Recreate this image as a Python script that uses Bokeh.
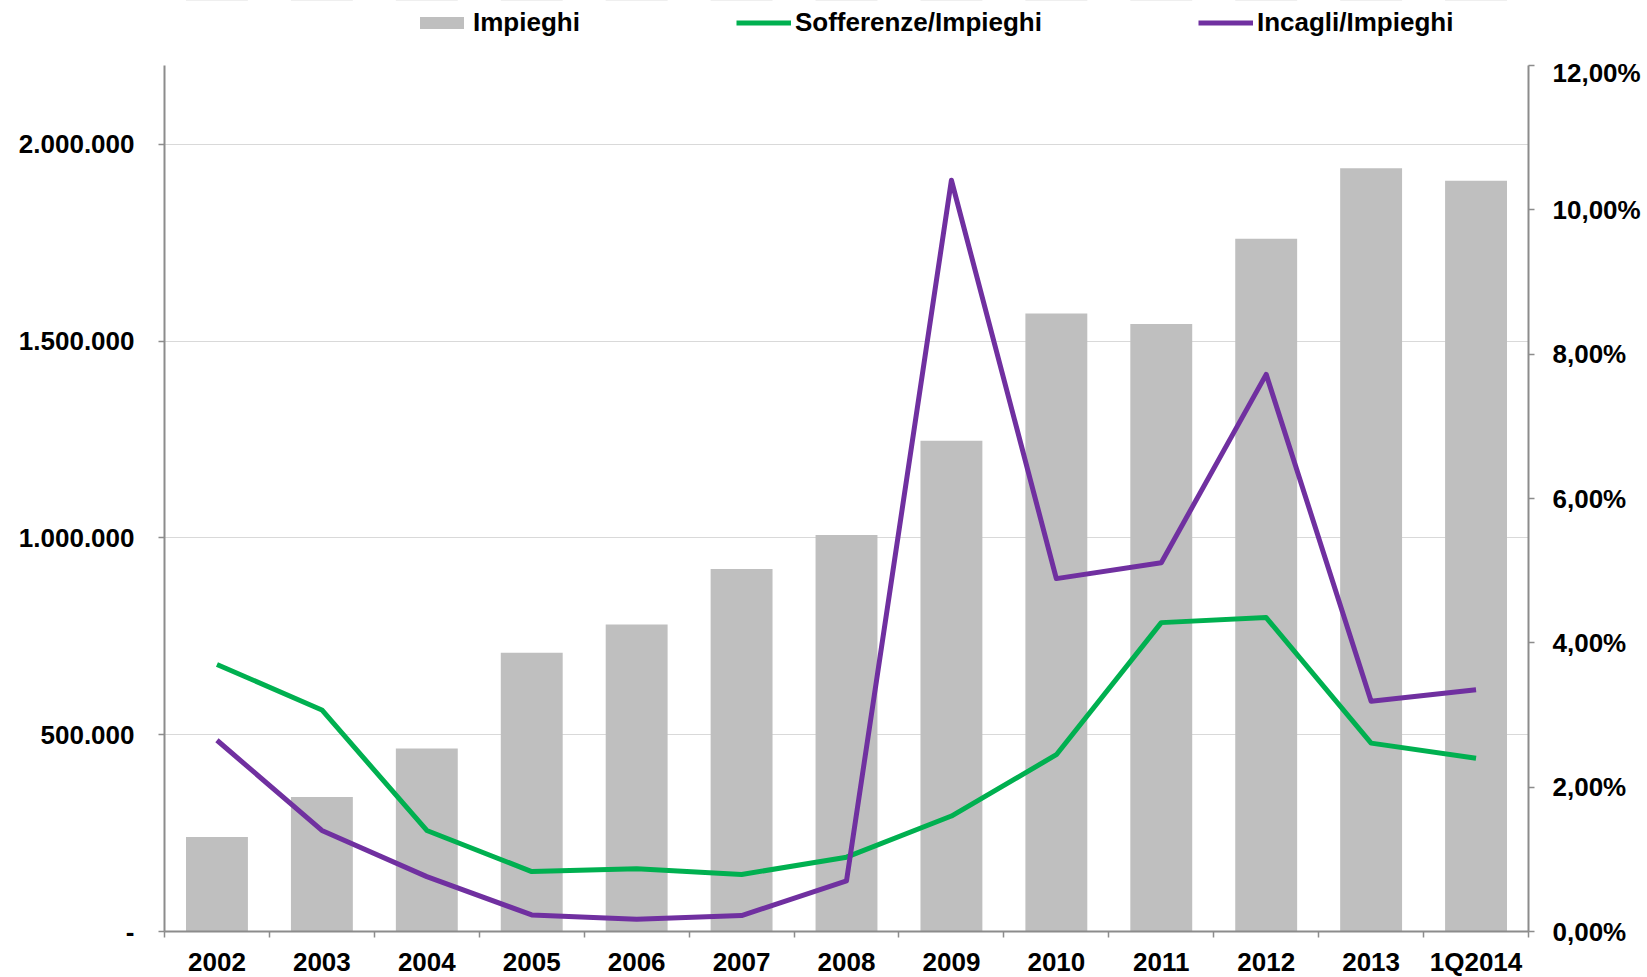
from bokeh.plotting import figure
from bokeh.layouts import column
from bokeh.models import (ColumnDataSource, FactorRange, Range1d, LinearAxis, CategoricalAxis,
                          FixedTicker, Legend, LegendItem)
from bokeh.embed import file_html
from bokeh.resources import INLINE

categories = ["2002", "2003", "2004", "2005", "2006", "2007", "2008", "2009", "2010",
              "2011", "2012", "2013", "1Q2014"]
impieghi = [240000, 342000, 465000, 708000, 780000, 921000, 1007000, 1247000, 1570000,
            1543000, 1760000, 1939000, 1907000]
sofferenze_pct = [3.70, 3.07, 1.40, 0.83, 0.87, 0.79, 1.03, 1.60, 2.45, 4.28, 4.35, 2.61, 2.40]
incagli_pct = [2.65, 1.40, 0.76, 0.23, 0.17, 0.22, 0.70, 10.41, 4.89, 5.11, 7.72, 3.19, 3.35]
left_ticks = [0, 500000, 1000000, 1500000, 2000000]
left_labels = ["-", "500.000", "1.000.000", "1.500.000", "2.000.000"]
right_ticks = [0, 2, 4, 6, 8, 10, 12]
right_labels = ["0,00%", "2,00%", "4,00%", "6,00%", "8,00%", "10,00%", "12,00%"]
series_names = ["Impieghi", "Sofferenze/Impieghi", "Incagli/Impieghi"]

FONT = "Liberation Sans"
FS = "26px"
AXIS_COL = "#8C8C8C"
BAR_COL = "#BFBFBF"
GREEN = "#00B050"
PURPLE = "#7030A0"

src = ColumnDataSource(dict(cat=categories, imp=impieghi, sof=sofferenze_pct, inc=incagli_pct))

p = figure(x_range=FactorRange(*categories, range_padding=0), y_range=Range1d(0, 2200000),
           frame_width=1364, frame_height=866,
           min_border_left=164, min_border_right=118, min_border_top=8, min_border_bottom=10,
           output_backend="svg", toolbar_location=None,
           x_axis_location=None, y_axis_location=None)
p.extra_y_ranges = {"pct": Range1d(0, 12)}
p.outline_line_color = None
p.xgrid.visible = False

p.vbar(x="cat", top="imp", width=0.59, source=src, fill_color=BAR_COL, line_color=None)
p.line(x="cat", y="sof", source=src, y_range_name="pct", line_color=GREEN,
       line_width=5, line_join="round")
p.line(x="cat", y="inc", source=src, y_range_name="pct", line_color=PURPLE,
       line_width=5, line_join="round")

def style_axis(ax):
    ax.axis_line_color = AXIS_COL
    ax.axis_line_width = 2
    ax.major_tick_line_color = AXIS_COL
    ax.major_tick_line_width = 1.5
    ax.major_tick_in = 0
    ax.major_tick_out = 6
    ax.minor_tick_line_color = None
    ax.major_label_text_font = FONT
    ax.major_label_text_font_style = "bold"
    ax.major_label_text_font_size = FS
    ax.major_label_text_color = "black"

yl = LinearAxis(ticker=FixedTicker(ticks=left_ticks),
                major_label_overrides={t: s for t, s in zip(left_ticks, left_labels)})
style_axis(yl)
yl.major_label_standoff = 24
p.add_layout(yl, "left")

yr = LinearAxis(y_range_name="pct", ticker=FixedTicker(ticks=right_ticks),
                major_label_overrides={t: s for t, s in zip(right_ticks, right_labels)})
style_axis(yr)
yr.major_label_standoff = 18
p.add_layout(yr, "right")

# tick marks at the boundaries between categories (synthetic coordinates 0..N)
bounds = list(range(len(categories) + 1))
xt = LinearAxis(ticker=FixedTicker(ticks=bounds),
                major_label_overrides={b: "" for b in bounds})
style_axis(xt)
xt.major_label_text_font_size = "0px"
xt.major_label_standoff = 0
p.add_layout(xt, "below")

xc = CategoricalAxis()
style_axis(xc)
xc.axis_line_color = None
xc.major_tick_line_color = None
xc.major_label_standoff = 3
p.add_layout(xc, "below")

p.ygrid.ticker = FixedTicker(ticks=left_ticks)
p.ygrid.grid_line_color = "#D9D9D9"
p.ygrid.grid_line_width = 1

# legend strip above the chart: same series, drawn outside the strip's view range
leg = figure(width=1646, height=57, x_range=FactorRange(*categories, range_padding=0),
             y_range=Range1d(-2, -1),
             min_border_left=164, min_border_right=118, min_border_top=0, min_border_bottom=0,
             output_backend="svg", toolbar_location=None,
             x_axis_location=None, y_axis_location=None)
leg.outline_line_color = None
leg.xgrid.visible = False
leg.ygrid.visible = False
r0 = leg.vbar(x="cat", top="imp", width=0.59, source=src, fill_color=BAR_COL, line_color=None)
r1 = leg.line(x="cat", y="sof", source=src, line_color=GREEN, line_width=5)
r2 = leg.line(x="cat", y="inc", source=src, line_color=PURPLE, line_width=5)

legend = Legend(items=[LegendItem(label=n, renderers=[r]) for n, r in zip(series_names, [r0, r1, r2])],
                orientation="horizontal", location=(250, 19),
                padding=0, margin=0, spacing=156, label_standoff=4,
                glyph_width=55, glyph_height=15, label_height=26,
                border_line_color=None, background_fill_alpha=0,
                label_text_font=FONT, label_text_font_style="bold",
                label_text_font_size=FS, label_text_color="black")
leg.add_layout(legend, "center")

open("out.html", "w").write(file_html(column(leg, p, spacing=0), INLINE))
